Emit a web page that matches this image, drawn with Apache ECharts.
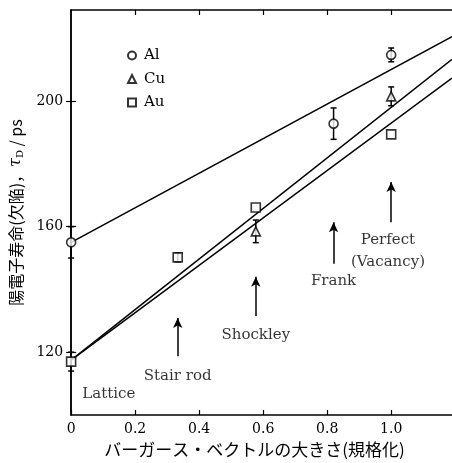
<!DOCTYPE html>
<html>
<head>
<meta charset="utf-8">
<script src="https://cdn.jsdelivr.net/npm/echarts@6/dist/echarts.min.js"></script>
<style>
  html, body { margin: 0; padding: 0; background: #fff; }
  #chart { width: 452px; height: 463px; }
</style>
</head>
<body>
<div id="chart"></div>
<script>
// measured values (burgers vector magnitude vs positron lifetime)
var bAl = [0, 0.82, 1.0];
var tauAl = [155, 192.8, 214.7];
var errAl = [5, 5, 2.2];

var bCu = [0.577, 1.0];
var tauCu = [158.5, 201.5];
var errCu = [3.6, 3];

var bAu = [0, 0.333, 0.577, 1.0];
var tauAu = [117, 150.2, 166.1, 189.4];
var errAu = [3, 1.4, 0, 0];

// fitted straight lines, value at b = 0 and at the right edge
var fitX = [0, 1.19];
var fitAl = [155, 220.5];
var fitCu = [117.5, 213.3];
var fitAu = [117.5, 207.3];

var xTicks = [0, 0.2, 0.4, 0.6, 0.8, 1.0];
var yTicks = [120, 160, 200];

// arrows: b, tail, head
var arrowB = [0.333, 0.577, 0.82, 1.0];
var arrowTail = [118.7, 131.5, 148.2, 161.4];
var arrowHead = [130.9, 144, 161.4, 174.2];

// text notes
var noteText = ['Lattice', 'Stair rod', 'Shockley', 'Frank', 'Perfect\n(Vacancy)'];
var noteB = [0.035, 0.333, 0.577, 0.82, 0.99];
var noteTau = [106.6, 112.3, 125.4, 142.7, 152.3];

var serif = 'DejaVu Serif';

function pts(xs, ys) {
  return xs.map(function (x, i) { return [x, ys[i]]; });
}
function errData(xs, ys, es) {
  var out = [];
  xs.forEach(function (x, i) {
    if (es[i] > 0) out.push([x, ys[i] - es[i], ys[i] + es[i]]);
  });
  return out;
}

var allErr = errData(bAl, tauAl, errAl)
  .concat(errData(bCu, tauCu, errCu))
  .concat(errData(bAu, tauAu, errAu));

var markerStyle = { color: '#fff', borderColor: '#000', borderWidth: 1.6 };

function fitSeries(name, ys) {
  return {
    name: name, type: 'line', data: pts(fitX, ys),
    symbol: 'none', silent: true, z: 2,
    lineStyle: { color: '#000', width: 1.5 }
  };
}

var chart = echarts.init(document.getElementById('chart'));

var option = {
  animation: false,
  backgroundColor: '#fff',
  grid: { left: 71, top: 10, right: -1, bottom: 48 },
  legend: {
    data: ['Al', 'Cu', 'Au'],
    orient: 'vertical',
    left: 122, top: 43,
    itemWidth: 8, itemHeight: 8, itemGap: 8.5,
    textStyle: { fontFamily: serif, fontSize: 15, color: '#000', padding: [0, 0, 0, 3] }
  },
  xAxis: [{
    type: 'value', min: 0, max: 1.19, position: 'bottom',
    name: 'バーガース・ベクトルの大きさ(規格化)',
    nameLocation: 'middle', nameGap: 22,
    nameTextStyle: { fontFamily: 'Noto Sans CJK JP', fontSize: 17, color: '#000', padding: [0, 14, 0, 0] },
    axisLine: { lineStyle: { color: '#000', width: 1.5 } },
    axisTick: { inside: true, length: 5, customValues: xTicks, lineStyle: { color: '#000', width: 1.2 } },
    axisLabel: {
      customValues: xTicks, margin: 7,
      fontFamily: serif, fontSize: 14, color: '#000',
      formatter: function (v) { return v === 0 ? '0' : v.toFixed(1); }
    },
    splitLine: { show: false }
  }, {
    type: 'value', min: 0, max: 1.19, position: 'top',
    axisLine: { lineStyle: { color: '#000', width: 1.5 } },
    axisTick: { inside: true, length: 5, customValues: xTicks.slice(1), lineStyle: { color: '#000', width: 1.2 } },
    axisLabel: { show: false },
    splitLine: { show: false }
  }],
  yAxis: [{
    type: 'value', min: 100, max: 229, position: 'left',
    name: '陽電子寿命(欠陥)，{t|τ}{s|D} / ps',
    nameLocation: 'middle', nameRotate: 90, nameGap: 45,
    nameTextStyle: {
      fontFamily: 'Noto Sans CJK JP', fontSize: 16, color: '#000',
      rich: {
        t: { fontFamily: serif, fontSize: 16, fontStyle: 'italic', color: '#000' },
        s: { fontFamily: serif, fontSize: 10, color: '#000', padding: [9, 0, 0, 0] }
      }
    },
    axisLine: { lineStyle: { color: '#000', width: 1.5 } },
    axisTick: { inside: true, length: 5, customValues: yTicks, lineStyle: { color: '#000', width: 1.2 } },
    axisLabel: { customValues: yTicks, margin: 8, fontFamily: serif, fontSize: 14, color: '#000' },
    splitLine: { show: false }
  }, {
    type: 'value', min: 100, max: 229, position: 'right',
    axisLine: { lineStyle: { color: '#000', width: 1.5 } },
    axisTick: { inside: true, length: 5, customValues: yTicks, lineStyle: { color: '#000', width: 1.2 } },
    axisLabel: { show: false },
    splitLine: { show: false }
  }],
  series: [
    fitSeries('fitAl', fitAl),
    fitSeries('fitCu', fitCu),
    fitSeries('fitAu', fitAu),
    {
      name: 'err', type: 'custom', z: 3, silent: true,
      data: allErr,
      renderItem: function (params, api) {
        var lo = api.coord([api.value(0), api.value(1)]);
        var hi = api.coord([api.value(0), api.value(2)]);
        var w = 3;
        var st = { stroke: '#000', lineWidth: 1.5 };
        return {
          type: 'group',
          children: [
            { type: 'line', shape: { x1: lo[0], y1: lo[1], x2: hi[0], y2: hi[1] }, style: st },
            { type: 'line', shape: { x1: lo[0] - w, y1: lo[1], x2: lo[0] + w, y2: lo[1] }, style: st },
            { type: 'line', shape: { x1: hi[0] - w, y1: hi[1], x2: hi[0] + w, y2: hi[1] }, style: st }
          ]
        };
      }
    },
    {
      name: 'Al', type: 'scatter', symbol: 'circle', symbolSize: 9, z: 5,
      itemStyle: markerStyle, data: pts(bAl, tauAl)
    },
    {
      name: 'Cu', type: 'scatter', symbol: 'triangle', symbolSize: 9, z: 5,
      itemStyle: markerStyle, data: pts(bCu, tauCu)
    },
    {
      name: 'Au', type: 'scatter', symbol: 'rect', symbolSize: 9, z: 5,
      itemStyle: markerStyle, data: pts(bAu, tauAu)
    },
    {
      name: 'notes', type: 'scatter', symbolSize: 0, silent: true, z: 4,
      data: noteText.map(function (t, i) { return { name: t, value: [noteB[i], noteTau[i]] }; }),
      label: {
        show: true, position: 'inside', formatter: '{b}',
        fontFamily: serif, fontSize: 15, color: '#000', lineHeight: 22
      },
      markLine: {
        silent: true, symbol: ['none', 'arrow'], symbolSize: [7, 10],
        label: { show: false },
        lineStyle: { color: '#000', width: 1.5, type: 'solid' },
        data: arrowB.map(function (b, i) {
          return [{ coord: [b, arrowTail[i]] }, { coord: [b, arrowHead[i]] }];
        })
      }
    }
  ]
};

// Lattice label is left aligned at its anchor
option.series[7].data[0].label = { position: 'right', distance: 0 };

chart.setOption(option);
</script>
</body>
</html>
